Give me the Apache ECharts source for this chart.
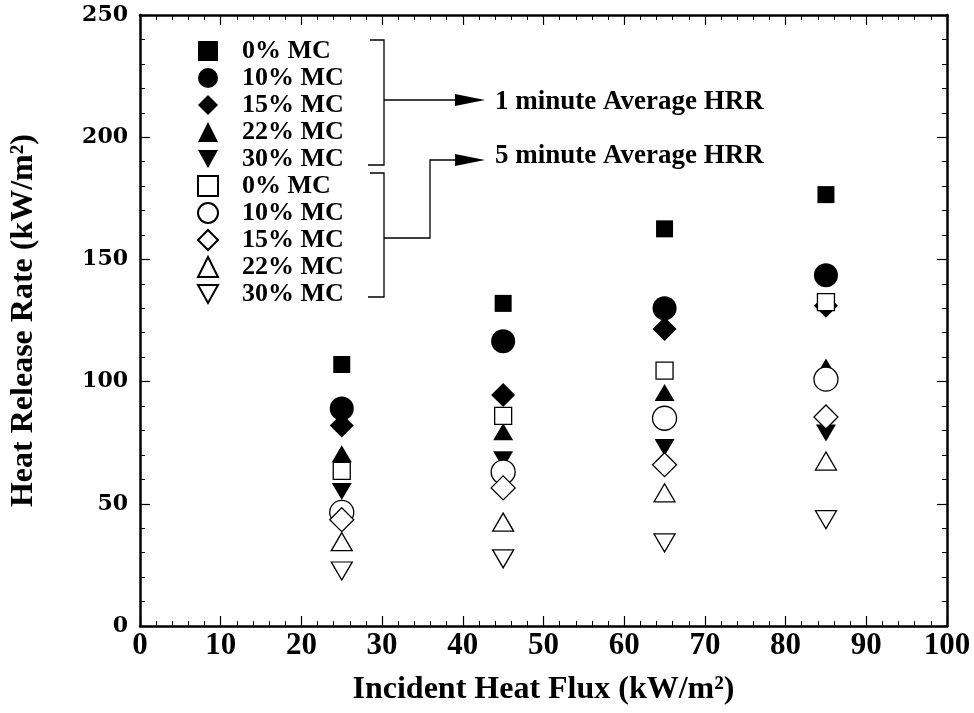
<!DOCTYPE html>
<html>
<head>
<meta charset="utf-8">
<title>Heat Release Rate vs Incident Heat Flux</title>
<script src="https://cdn.jsdelivr.net/npm/echarts@6/dist/echarts.min.js"></script>
<style>
    html, body { margin: 0; padding: 0; background: #fff; }
    #chart { width: 974px; height: 713px; }
</style>
</head>
<body>
<div id="chart"></div>
<script>
// incident heat flux (kW/m2)
const heatFlux = [25, 45, 65, 85];
const moistureLabels = ['0% MC', '10% MC', '15% MC', '22% MC', '30% MC'];

// 1 minute average HRR (kW/m2), filled markers
const oneMin0 = [107, 132, 162.5, 176.5];
const oneMin10 = [89, 116.5, 130, 143.5];
const oneMin15 = [82, 94.5, 121.5, 131];
const oneMin22 = [70.5, 79.5, 95.5, 106];
const oneMin30 = [55, 68, 73, 79];

// 5 minute average HRR (kW/m2), open markers
const fiveMin0 = [63.5, 86, 104.5, 132.5];
const fiveMin10 = [46.5, 63, 85, 101];
const fiveMin15 = [43.5, 56.5, 66, 85.5];
const fiveMin22 = [34.5, 42.5, 54.5, 67.5];
const fiveMin30 = [22.5, 27.5, 34, 43.5];

const xTicks = { min: 0, max: 100, interval: 10 };
const yTicks = { min: 0, max: 250, interval: 50 };

const serif = 'Liberation Serif';
const downTri = 'path://M0,0 L20,0 L10,18 Z';

// marker shape + size per moisture level
const shapes = [
    { filled: ['rect', 17], open: ['rect', 17] },
    { filled: ['circle', 24], open: ['circle', 24] },
    { filled: ['diamond', 24], open: ['diamond', 24] },
    { filled: ['triangle', [20, 17]], open: ['triangle', [21, 18]] },
    { filled: [downTri, [20, 17]], open: [downTri, [21, 18]] },
];

function pairs(vals) {
    return heatFlux.map((x, i) => [x, vals[i]]);
}

function makeSeries(name, vals, shape, open) {
    return {
        name: name,
        type: 'scatter',
        data: pairs(vals),
        symbol: shape[0],
        symbolSize: shape[1],
        itemStyle: open
            ? { color: '#fff', borderColor: '#000', borderWidth: 1.3, opacity: 1 }
            : { color: '#000', borderColor: '#000', borderWidth: 0, opacity: 1 },
        emphasis: { disabled: true },
    };
}

const oneMinAll = [oneMin0, oneMin10, oneMin15, oneMin22, oneMin30];
const fiveMinAll = [fiveMin0, fiveMin10, fiveMin15, fiveMin22, fiveMin30];

const series = [];
moistureLabels.forEach((lab, i) => {
    series.push(makeSeries(lab, oneMinAll[i], shapes[i].filled, false));
});
moistureLabels.forEach((lab, i) => {
    series.push(makeSeries(lab + ' (5 min)', fiveMinAll[i], shapes[i].open, true));
});

const tickCommon = {
    axisLine: { show: true, onZero: false, lineStyle: { color: '#000', width: 2.5 } },
    axisTick: { show: true, inside: true, length: 10, lineStyle: { color: '#000', width: 1.2 } },
    minorTick: { show: true, splitNumber: 5, length: 5, lineStyle: { color: '#000', width: 1 } },
    splitLine: { show: false },
};

let myChart = echarts.init(document.getElementById('chart'));
let option = {
    backgroundColor: '#fff',
    animation: false,
    grid: { left: 138, right: 27, top: 15, bottom: 87 },
    xAxis: [
        Object.assign({
            type: 'value',
            min: xTicks.min, max: xTicks.max, interval: xTicks.interval,
            name: 'Incident Heat Flux (kW/m²)',
            nameLocation: 'middle',
            nameGap: 48,
            nameTextStyle: { fontFamily: serif, fontWeight: 'bold', fontSize: 32, color: '#000' },
            axisLabel: { fontFamily: serif, fontWeight: 'bold', fontSize: 31, color: '#000', margin: 4 },
        }, tickCommon),
        Object.assign({
            type: 'value', position: 'top',
            min: xTicks.min, max: xTicks.max, interval: xTicks.interval,
            axisLabel: { show: false },
        }, tickCommon),
    ],
    yAxis: [
        Object.assign({
            type: 'value',
            min: yTicks.min, max: yTicks.max, interval: yTicks.interval,
            name: 'Heat Release Rate (kW/m²)',
            nameLocation: 'middle',
            nameGap: 100,
            nameTextStyle: { fontFamily: serif, fontWeight: 'bold', fontSize: 32, color: '#000' },
            axisLabel: { fontFamily: 'DejaVu Serif', fontWeight: 'bold', fontSize: 22, color: '#000', margin: 12 },
        }, tickCommon),
        Object.assign({
            type: 'value', position: 'right',
            min: yTicks.min, max: yTicks.max, interval: yTicks.interval,
            axisLabel: { show: false },
        }, tickCommon),
    ],
    legend: {
        orient: 'vertical',
        left: 197,
        top: 38,
        itemWidth: 20,
        itemHeight: 20,
        itemGap: 1,
        padding: 0,
        selectedMode: false,
        data: series.map(s => s.name),
        formatter: name => name.replace(' (5 min)', ''),
        textStyle: { fontFamily: serif, fontWeight: 'bold', fontSize: 26, lineHeight: 20, color: '#000', padding: [0, 0, 0, 19] },
    },
    // brackets + arrows pointing to the two group labels
    graphic: [
        { type: 'polyline', shape: { points: [[370, 40], [384, 40], [384, 165], [368, 165]] },
          style: { stroke: '#000', lineWidth: 1.3, fill: null } },
        { type: 'polyline', shape: { points: [[384, 100], [460, 100]] },
          style: { stroke: '#000', lineWidth: 1.3, fill: null } },
        { type: 'polygon', shape: { points: [[455, 94], [485, 100], [455, 106]] },
          style: { fill: '#000' } },
        { type: 'polyline', shape: { points: [[370, 173], [384, 173], [384, 297], [368, 297]] },
          style: { stroke: '#000', lineWidth: 1.3, fill: null } },
        { type: 'polyline', shape: { points: [[384, 238], [430, 238], [430, 160], [460, 160]] },
          style: { stroke: '#000', lineWidth: 1.3, fill: null } },
        { type: 'polygon', shape: { points: [[455, 154], [485, 160], [455, 166]] },
          style: { fill: '#000' } },
        { type: 'text', left: 495, top: 89,
          style: { text: '1 minute Average HRR', fontFamily: serif, fontWeight: 'bold', fontSize: 27, fill: '#000' } },
        { type: 'text', left: 495, top: 143,
          style: { text: '5 minute Average HRR', fontFamily: serif, fontWeight: 'bold', fontSize: 27, fill: '#000' } },
    ],
    series: series,
};
myChart.setOption(option);
</script>
</body>
</html>
